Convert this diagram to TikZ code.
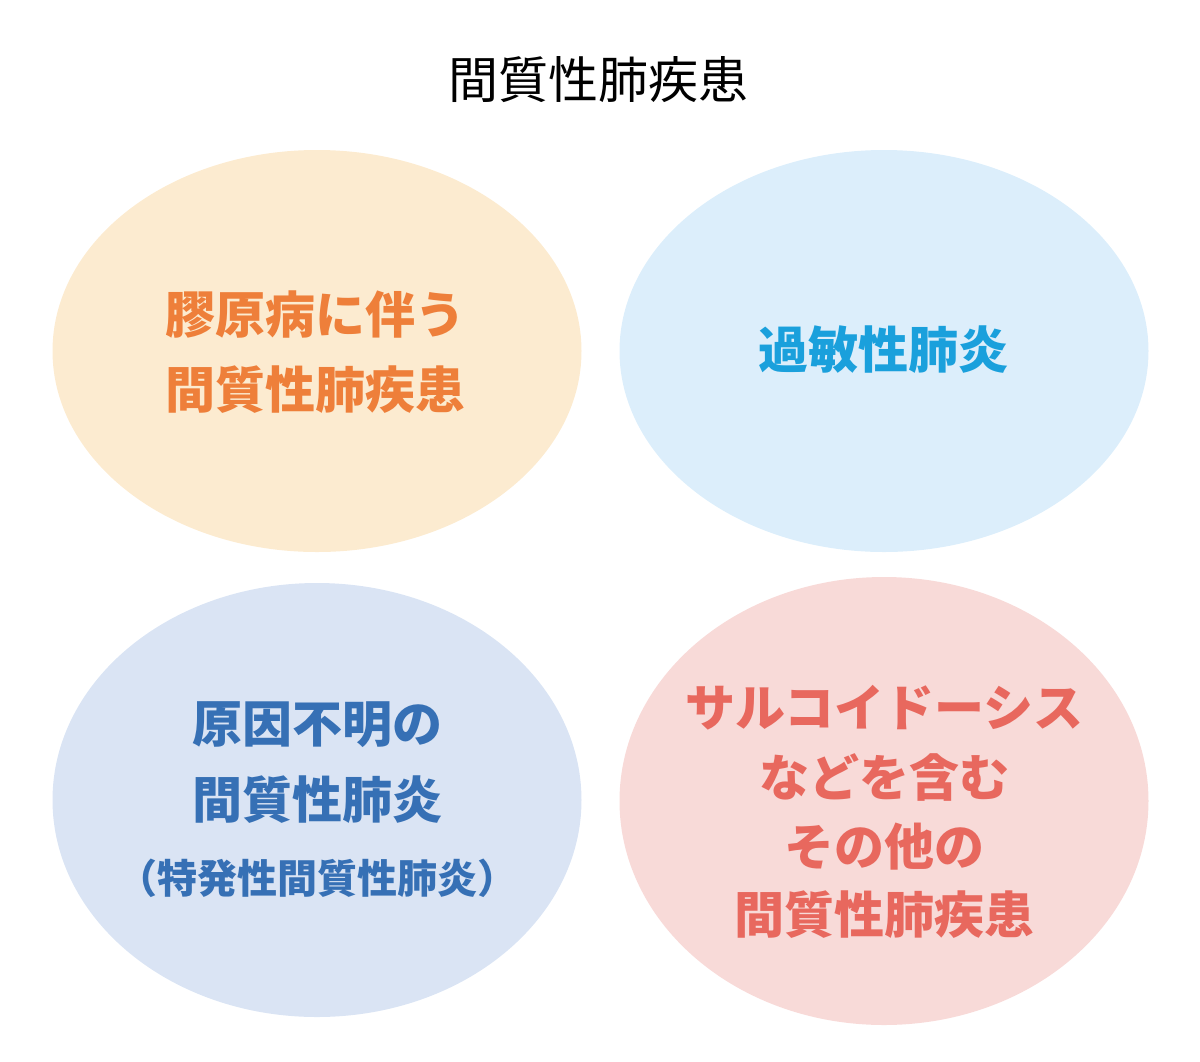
\documentclass[tikz,border=0pt]{standalone}
\usepackage{fontspec}
\setmainfont{Noto Sans CJK JP}
\definecolor{orangefill}{HTML}{FCEBD0}
\definecolor{orangetext}{HTML}{EE7F3A}
\definecolor{bluefill}{HTML}{DCEEFB}
\definecolor{bluetext}{HTML}{1AA0DC}
\definecolor{navyfill}{HTML}{DAE4F4}
\definecolor{navytext}{HTML}{3670B5}
\definecolor{pinkfill}{HTML}{F8DAD8}
\definecolor{pinktext}{HTML}{E8685E}
\tikzset{
  blob/.style = {ellipse, fill = #1, draw = none, minimum width = 529pt, minimum height = 402pt},
  label/.style = {text = #1, font = \fontsize{50}{52}\selectfont\bfseries, inner sep = 0},
  small label/.style = {label = #1, font = \fontsize{40}{42}\selectfont\bfseries},
}
\usetikzlibrary{shapes.geometric}
\begin{document}
\begin{tikzpicture}[x=1pt,y=-1pt]
\useasboundingbox (0,0) rectangle (1200,1061);
\node[font=\fontsize{50}{52}\selectfont, inner sep=0] (title) at (598,80) {間質性肺疾患};
\node[blob=orangefill] (ctd) at (317,351) {};
\node[blob=bluefill] (hp) at (884,351) {};
\node[blob=navyfill, minimum height=434pt] (ipf) at (317,800) {};
\node[blob=pinkfill, minimum height=448pt] (other) at (884,801) {};
% texts
\node[label=orangetext] (ctd1) at (315,315) {膠原病に伴う};
\node[label=orangetext] (ctd2) at (315,390) {間質性肺疾患};
\node[label=bluetext] (hp1) at (883,350) {過敏性肺炎};
\node[label=navytext] (ipf1) at (317,725) {原因不明の};
\node[label=navytext] (ipf2) at (317,800) {間質性肺炎};
\node[small label=navytext] (ipf3) at (317,878) {（特発性間質性肺炎）};
\node[label=pinktext] (oth1) at (884,708) {サルコイドーシス};
\node[label=pinktext] (oth2) at (884,777) {などを含む};
\node[label=pinktext] (oth3) at (884,847) {その他の};
\node[label=pinktext] (oth4) at (884,915) {間質性肺疾患};
\end{tikzpicture}
\end{document}
